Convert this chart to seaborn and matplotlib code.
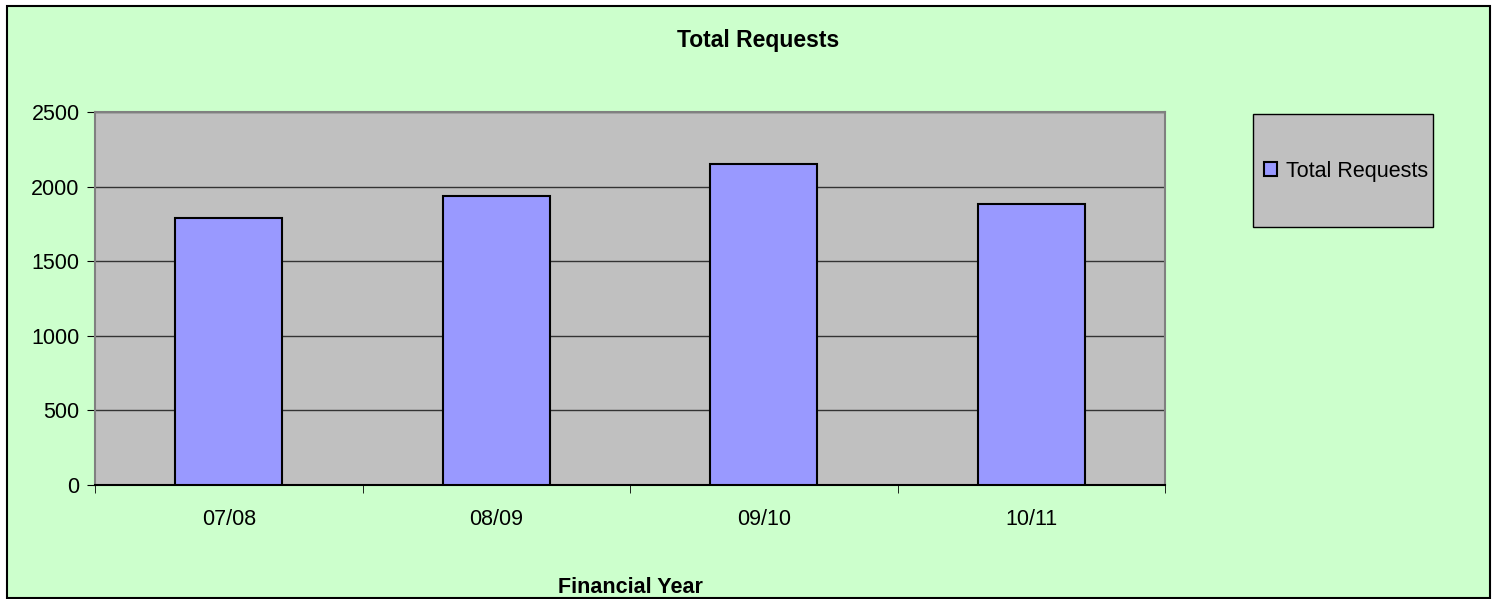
import matplotlib
matplotlib.use("Agg")
import matplotlib.pyplot as plt
from matplotlib.patches import Rectangle
import seaborn as sns
import pandas as pd

years = ["07/08", "08/09", "09/10", "10/11"]
requests = [1790, 1935, 2150, 1883]

sns.set_style("white")
plt.rcParams["font.family"] = ["Liberation Sans", "DejaVu Sans"]
plt.rcParams["text.color"] = "black"
plt.rcParams["xtick.color"] = "black"
plt.rcParams["ytick.color"] = "black"
plt.rcParams["axes.labelcolor"] = "black"

FS = 15.5

df = pd.DataFrame({"Financial Year": years, "Total Requests": requests})

fig = plt.figure(figsize=(14.92, 5.99), dpi=100)
fig.patch.set_facecolor("white")

# green chart area with black frame
fig.patches.append(Rectangle((7 / 1492, 1 / 599), 1483 / 1492, 592 / 599,
                             transform=fig.transFigure, facecolor="#CCFFCC",
                             edgecolor="black", linewidth=1.5, zorder=-2))

ax = fig.add_axes([95 / 1492, 114 / 599, 1070 / 1492, 373 / 599])
ax.set_facecolor("#C0C0C0")

sns.barplot(data=df, x="Financial Year", y="Total Requests", ax=ax,
            color="#9999FF", width=0.4, edgecolor="black", linewidth=1.5,
            saturation=1, label="Total Requests", zorder=3)
handles, labels = ax.get_legend_handles_labels()
if ax.get_legend() is not None:
    ax.get_legend().remove()

ax.set_ylim(0, 2500)
ax.set_xlim(-0.5, len(years) - 0.5)
ax.set_yticks(range(0, 2501, 500))
ax.yaxis.grid(True, color="#333333", linewidth=1)
ax.set_axisbelow(True)
for s in ax.spines.values():
    s.set_color("#808080")
    s.set_linewidth(1.5)
ax.spines["bottom"].set_color("black")

# tick marks on category boundaries, labels at centres
ax.set_xticks([i - 0.5 for i in range(len(years) + 1)], minor=True)
ax.tick_params(axis="x", which="major", length=0, pad=17, labelsize=FS)
ax.tick_params(axis="x", which="minor", length=6, color="black", direction="out")
ax.tick_params(axis="y", length=6, color="black", direction="out", labelsize=FS, pad=5)
ax.yaxis.set_ticks_position("left")
ax.xaxis.set_ticks_position("bottom")

ax.set_xlabel("Financial Year", fontsize=FS, fontweight="bold", labelpad=34)
ax.set_ylabel("")

fig.text(758 / 1492, 1 - 40 / 599, "Total Requests", ha="center", va="center",
         fontsize=16.5, fontweight="bold")

# legend box
fig.patches.append(Rectangle((1253 / 1492, 1 - 227 / 599), 180 / 1492, 113 / 599,
                             transform=fig.transFigure, facecolor="#C0C0C0",
                             edgecolor="black", linewidth=1, zorder=1))
fig.legend(handles, labels, loc="center",
           bbox_to_anchor=(1346 / 1492, 1 - 171 / 599), frameon=False,
           fontsize=FS, handlelength=0.6, handleheight=0.6, handletextpad=0.4)

fig.savefig("out.png", dpi=100, facecolor=fig.get_facecolor())
